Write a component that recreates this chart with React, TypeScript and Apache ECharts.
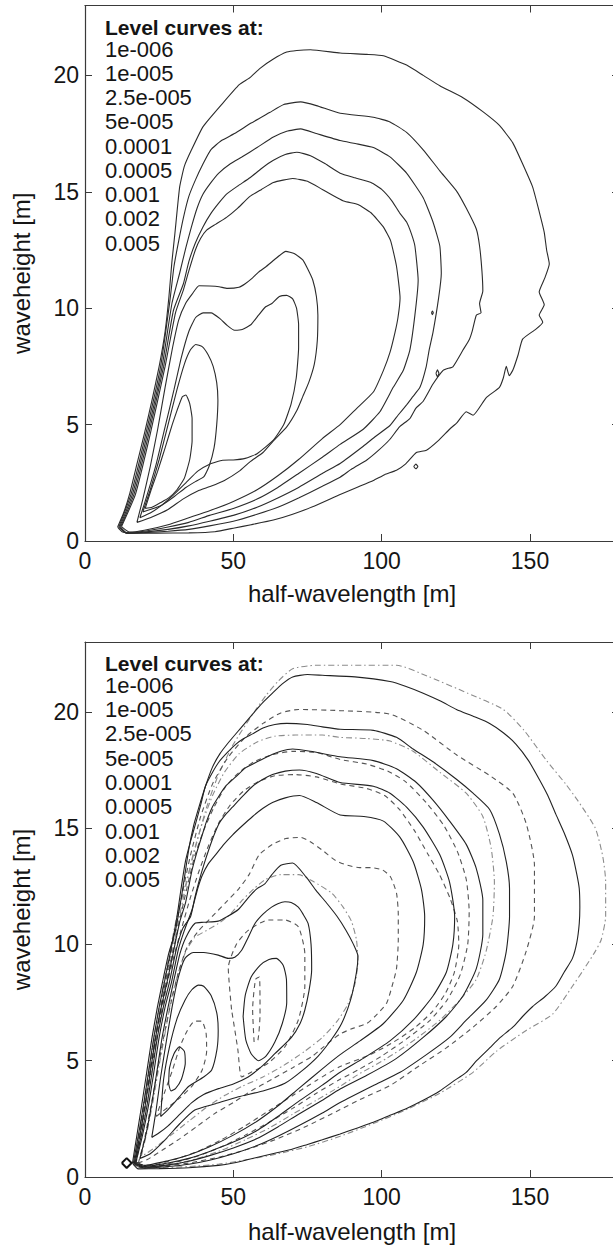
import React, { useEffect, useRef } from 'react';
import * as echarts from 'echarts';

type Pt = [number, number];

const levelLabels = ['1e-006', '1e-005', '2.5e-005', '5e-005', '0.0001', '0.0005', '0.001', '0.002', '0.005'];
const legendTitle = 'Level curves at:';
const xRange = [0, 180];
const yRange = [0, 23];
const xStep = 50;
const yStep = 5;
const xName = 'half-wavelength [m]';
const yName = 'waveheight [m]';

// ---------------- top panel : level curves ----------------
const top1: Pt[] = [[11,0.6],[13,1.2],[15,2],[17.5,3.3],[20,4.6],[22.5,6],[25,7.5],[27,9],[28.3,10.5],[29.3,12],[30.3,13.2],[31.9,15.2],[33.5,16.1],[35.9,16.8],[39.8,17.8],[46.4,18.8],[52,19.6],[55.6,19.9],[59,20.3],[63.5,20.7],[68,21.0],[71.4,21.07],[76,21.1],[86,20.96],[95,20.9],[100.6,20.84],[108.4,20.44],[114,20],[119.6,19.55],[127.4,19.04],[134.1,18.44],[139.7,17.85],[144.2,17.1],[147.5,16.2],[150.9,15.2],[153.1,14.15],[154.8,13.26],[155.6,12.5],[156.5,11.9],[155,11.3],[153.1,10.7],[154.8,10.15],[153.1,9.7],[154.3,9.4],[152,9.1],[147.5,8.67],[146,8.0],[144.2,7.33],[143,7.1],[142,7.5],[141,7.0],[139.7,6.6],[135.2,6.15],[130.8,5.4],[128.5,5.55],[125.5,5.1],[122.9,4.8],[119,4.3],[115.1,3.9],[111.7,3.8],[108,3.3],[105,3.04],[101,2.85],[97.2,2.6],[91.6,2.3],[86,2.0],[76.7,1.47],[70,1.15],[63.5,0.9],[56,0.7],[50.4,0.56],[43.8,0.4],[35,0.35],[24,0.34],[15,0.33],[12.5,0.4],[11,0.6]];
const top2: Pt[] = [[11.4,0.6],[15.5,2],[20.5,4.6],[25.5,7.5],[28.6,10.3],[30,11.8],[31.6,12.9],[33.2,13.9],[35,14.8],[37.2,15.5],[39.8,16.2],[42.4,16.8],[46,17.2],[50.4,17.5],[56,17.95],[62.2,18.4],[67,18.75],[72.7,18.86],[78,18.7],[86,18.37],[97.2,18.2],[102.8,18.0],[108.4,17.55],[114,16.8],[119.6,15.9],[125.2,15.04],[128.5,14.3],[131.9,13.4],[133,12.67],[133.8,11.6],[134.1,10.74],[133,10.2],[133.5,9.8],[131.9,9.7],[130.5,9.0],[129.6,8.67],[127.4,8.2],[124,7.48],[122,7.4],[120.7,7.33],[117.3,6.74],[114,6.0],[111.5,5.7],[109.5,5.26],[106,4.9],[102.8,4.37],[99,3.9],[95,3.48],[90,3.1],[86,2.74],[80,2.35],[72,1.85],[65,1.45],[58,1.15],[50,0.85],[42,0.65],[35,0.5],[28,0.42],[20,0.36],[14,0.33],[11.4,0.6]];
const top3: Pt[] = [[11.7,0.6],[16,2],[21,4.6],[26,7.5],[29.3,10.2],[31.9,11.5],[34,12.6],[35.9,13.5],[37.8,14.3],[39.8,14.9],[42.5,15.4],[45.1,15.8],[49,16.2],[53,16.5],[58,16.9],[63.5,17.35],[68,17.6],[72.7,17.7],[78,17.5],[86,17.2],[91.1,17.07],[97.2,16.9],[102.8,16.5],[108.4,15.8],[114,14.74],[117.3,13.7],[119.6,12.67],[120.1,11.5],[119.2,10.44],[117.3,8.96],[116,8.2],[115,7.48],[112.9,6.6],[110.5,6.2],[108.4,5.85],[105.5,5.4],[102.8,4.96],[98,4.5],[93.8,4.07],[86,3.33],[80,2.9],[72,2.3],[65,1.85],[58,1.45],[50,1.1],[42,0.85],[35,0.65],[28,0.5],[20,0.38],[14,0.34],[11.7,0.6]];
const top4: Pt[] = [[12,0.6],[16.5,2],[21.5,4.6],[26.5,7.5],[29.8,9.9],[33.2,11.06],[35,12],[37.2,12.8],[39.8,13.5],[42.4,14.06],[45,14.5],[47.7,14.9],[51.5,15.25],[55.6,15.6],[59.5,16],[63.5,16.35],[67.5,16.6],[71.4,16.7],[76,16.55],[81,16.2],[86,15.8],[91,15.6],[96.4,15.4],[100,15.1],[103.5,14.6],[106,14.1],[108.4,13.7],[110,13.2],[111.2,12.67],[112.3,11.2],[111.2,9.7],[109.5,8.2],[107.3,7.33],[103.9,6.6],[99.4,5.55],[93.8,4.8],[86,4.15],[80,3.6],[72,2.9],[65,2.3],[58,1.8],[50,1.4],[42,1.1],[35,0.8],[28,0.6],[20,0.42],[14,0.36],[12,0.6]];
const top5: Pt[] = [[12.3,0.62],[17,2],[22,4.6],[27,7.5],[30.5,9.8],[33.2,10.8],[35,11.6],[37.2,12.5],[39,13],[41,13.35],[44,13.6],[47.7,13.9],[51.5,14.3],[55.6,14.8],[59.5,15.1],[63.5,15.4],[70,15.57],[75,15.45],[80,15.1],[87.2,14.6],[92,14.45],[96.4,14.1],[100.5,13.5],[103,12.9],[105,11.8],[106.2,10.44],[105.5,9.6],[104.5,8.96],[102.8,8.1],[100.6,7.33],[97.2,6.4],[91.6,5.7],[86,5.0],[80,4.4],[72,3.5],[65,2.8],[58,2.2],[50,1.7],[42,1.3],[35,1.0],[28,0.7],[20,0.46],[15,0.38],[12.3,0.62]];
const top6: Pt[] = [[17.5,0.8],[22,1.0],[28,1.35],[33,1.8],[38,2.15],[42.4,2.35],[47,2.6],[52,3.0],[55.6,3.4],[60,3.8],[63.5,4.3],[68,4.9],[71.4,5.6],[73.4,6.2],[75.4,6.8],[77.3,7.6],[78.3,8.6],[78.5,9.7],[78,10.5],[76.8,11.2],[75,11.7],[73.4,12.07],[70.5,12.35],[67.7,12.44],[64,12.1],[61,11.78],[58.5,11.55],[56.5,11.3],[54,11.05],[51.9,10.9],[48,10.85],[45.2,10.92],[42,10.95],[38.4,10.96],[36.1,10.6],[33.9,10.2],[31.6,9.5],[29.5,8.3],[27,6.6],[24.5,4.8],[22,3.2],[19.5,1.8],[17.5,0.8]];
const top7: Pt[] = [[18.5,1.0],[22,1.2],[26,1.55],[30,2.0],[34,2.5],[38,3.0],[42,3.3],[46.4,3.47],[50,3.48],[54,3.55],[58,3.75],[63.5,4.33],[67,5],[69.5,5.9],[71.2,7.0],[72,8.3],[72,9.3],[71.3,10.0],[70,10.4],[68,10.55],[65.5,10.5],[63,10.2],[60.9,10.06],[58.5,9.7],[56,9.3],[53,9.08],[50.4,9.05],[48,9.25],[45.5,9.55],[42.5,9.8],[39.8,9.8],[37.3,9.6],[35,9.0],[32.5,7.9],[30,6.5],[27,4.9],[24,3.3],[21,2.0],[18.5,1.0]];
const top8: Pt[] = [[19.5,1.25],[22,1.35],[26,1.55],[30,1.9],[34,2.3],[37.2,2.55],[40,2.75],[41.8,3.2],[43.5,4.0],[44.4,5],[44.8,6.05],[44.4,6.8],[43.2,7.5],[41.5,8.0],[39.5,8.35],[37.3,8.44],[35.5,8.2],[33.5,7.6],[31,6.5],[28,5.0],[25,3.5],[22,2.2],[19.5,1.25]];
const top9: Pt[] = [[20.3,1.4],[22.6,1.45],[25.5,1.65],[28.2,1.85],[31,2.2],[33.5,2.7],[35.3,3.5],[36.1,4.3],[36.1,5.26],[35.3,5.9],[34,6.27],[32.8,6.2],[31,5.6],[29.4,5.0],[27,4.0],[24.5,3.0],[22.3,2.2],[20.3,1.4]];
const topIslandA: Pt[] = [[110.8,3.2],[111.5,3.3],[112.2,3.2],[111.5,3.1],[110.8,3.2]];
const topIslandB: Pt[] = [[118.3,7.2],[118.8,7.35],[119.3,7.2],[118.8,7.05],[118.3,7.2]];
const topIslandC: Pt[] = [[116.8,9.8],[117.1,9.88],[117.4,9.8],[117.1,9.72],[116.8,9.8]];

// ---------------- bottom panel : solid curves ----------------
const bot1: Pt[] = [[16,0.6],[17.5,1.8],[19,3],[20.8,4.5],[22.6,6],[24.4,7.3],[26,8.3],[28.2,9.6],[30.5,10.6],[32.7,12.2],[35,14.1],[36.6,15.1],[38.4,15.9],[40.6,16.8],[42.9,17.6],[45.5,18.2],[48.5,18.7],[52.5,19.3],[56.5,19.9],[60,20.4],[63.2,20.8],[66.5,21.2],[70,21.5],[75,21.6],[80,21.57],[91,21.5],[102.8,21.3],[108,21.1],[114,20.8],[120,20.45],[125.2,20.1],[131,19.8],[136.4,19.5],[141,19.1],[145.3,18.6],[149.5,17.9],[153.1,17.1],[156,16.4],[158.7,15.6],[161.5,14.8],[164.3,13.85],[165.8,13.0],[166.6,12.4],[166.8,11.6],[166.6,10.9],[165.8,10.1],[164.3,9.4],[161.5,8.8],[158.7,8.2],[155,7.75],[150.9,7.33],[147.5,6.9],[144.2,6.44],[140,6.0],[136.4,5.55],[132,5.0],[128.5,4.5],[124,4.1],[119.6,3.7],[114,3.3],[108.4,2.95],[102.8,2.65],[97.2,2.35],[91.6,2.1],[86,1.85],[80,1.6],[75,1.4],[70,1.2],[65,1.05],[60,0.9],[55,0.75],[50,0.6],[45,0.5],[35,0.4],[25,0.36],[18,0.35],[16,0.6]];
const bot2: Pt[] = [[16.3,0.6],[18,1.8],[19.6,3],[21.4,4.5],[23.2,6],[25,7.3],[26.8,8.4],[29,9.8],[31,11.2],[32.5,12.5],[33.9,13.6],[35.5,14.4],[37.3,15.2],[39,16],[40.6,16.8],[43,17.4],[45.2,17.85],[48,18.25],[50.8,18.6],[53.5,18.85],[56.5,19.05],[60,19.3],[64,19.45],[68,19.5],[75,19.45],[80,19.35],[86,19.25],[97.2,19.2],[105,18.9],[110.6,18.4],[117.3,17.85],[125.2,17.1],[130.8,16.5],[136.4,15.8],[139.7,14.74],[142,13.56],[143.1,12.4],[143.1,11.2],[142,9.7],[139.7,8.5],[135.2,7.6],[128.5,6.74],[122.9,6.0],[115.1,5.26],[106.2,4.5],[97.2,3.93],[86,3.2],[80,2.75],[72,2.2],[65,1.75],[58,1.35],[50,1.0],[42,0.72],[35,0.55],[28,0.45],[20,0.38],[16.3,0.6]];
const bot3: Pt[] = [[16.6,0.6],[18.5,1.8],[20.2,3],[22,4.5],[23.8,6],[25.7,7.3],[27.7,8.4],[30,9.8],[32,11],[33.9,11.8],[35,12.5],[36.1,13.2],[37.8,14],[39.5,14.7],[41,15.3],[42.9,15.9],[45,16.35],[47.4,16.8],[50.8,17.2],[54.2,17.6],[58,17.85],[62,18.1],[66,18.3],[70,18.4],[76,18.3],[86,18.07],[97.2,17.9],[105,17.55],[111.7,16.96],[117.3,16.2],[122.9,15.3],[128.5,14.3],[131.9,13.26],[134.1,11.9],[134.1,10.44],[131.9,8.96],[127.4,7.78],[121.8,6.9],[114,6.0],[105,5.1],[95,4.37],[86,3.78],[80,3.3],[72,2.7],[65,2.15],[58,1.65],[50,1.25],[42,0.92],[35,0.68],[28,0.52],[20,0.42],[16.6,0.6]];
const bot4: Pt[] = [[16.9,0.62],[19,1.8],[20.8,3],[22.6,4.5],[24.4,6],[26.4,7.3],[28.5,8.4],[30.8,9.8],[33,10.7],[35.6,11.2],[37,12],[38.4,12.7],[40,13.4],[41.8,14.1],[43.5,14.7],[45.2,15.2],[47.5,15.6],[49.7,15.9],[53,16.35],[56.5,16.8],[60,17.1],[63.2,17.3],[67.5,17.45],[72.3,17.5],[78,17.35],[86,16.96],[97.2,16.8],[102.8,16.5],[108.4,15.9],[114,15.04],[119.6,13.85],[122.9,12.67],[124.6,11.2],[124,10],[121.8,8.8],[117.3,7.78],[110.6,6.74],[102.8,5.85],[93.8,5.1],[86,4.5],[80,3.95],[72,3.25],[65,2.6],[58,2.0],[50,1.5],[42,1.1],[35,0.8],[28,0.6],[20,0.45],[16.9,0.62]];
const bot5: Pt[] = [[17.2,0.65],[19.4,1.8],[21.3,3],[23.2,4.5],[25,6],[27,7.3],[29.2,8.4],[31.5,9.8],[33.5,10.6],[36.1,11.5],[38,12.4],[39.5,12.96],[41.5,13.45],[44,13.85],[46.8,14.3],[49.7,14.7],[53,15.1],[56.5,15.5],[60,15.85],[63.2,16.1],[67.5,16.3],[72.3,16.4],[78,16.1],[86,15.56],[94,15.5],[100.6,15.3],[106.2,14.6],[110.6,13.56],[113.4,12.37],[114.5,11.2],[114,10],[111.7,8.8],[107.3,7.6],[100.6,6.6],[92.7,5.85],[86,5.26],[80,4.65],[72,3.8],[65,3.05],[58,2.4],[50,1.8],[42,1.3],[35,0.95],[28,0.7],[20,0.5],[17.2,0.65]];
const bot6: Pt[] = [[18.5,0.8],[20.5,1.8],[22.3,3],[24.2,4.5],[26,6],[28,7.3],[30.2,8.6],[32,9.6],[34,10.3],[37,10.9],[40,10.95],[44.9,11.0],[48,11.2],[51.7,11.5],[55,12],[58,12.4],[60.6,12.6],[63,13.0],[66,13.4],[70,13.5],[74.5,12.9],[78,12.3],[81.3,11.8],[85,11.2],[88,10.6],[90.5,10.0],[92,9.5],[91.5,8.8],[89.5,7.6],[86.5,6.6],[83,5.9],[78.6,5.2],[73,4.55],[67.4,4.03],[60,3.7],[51.7,3.45],[44,3.15],[37,2.88],[32,2.3],[27,1.6],[22,1.0],[18.5,0.8]];
const bot7: Pt[] = [[22.5,1.7],[25,1.9],[28,2.2],[32,2.7],[36,3.2],[40,3.55],[45,3.8],[50,4.0],[55,4.3],[60,4.8],[64,5.3],[69.6,6.0],[72.5,6.6],[74.1,7.18],[75.5,8.0],[76.4,8.9],[76.2,10.0],[75.2,10.9],[73.5,11.3],[71.9,11.6],[69.5,11.8],[67.4,11.83],[65,11.75],[62.9,11.6],[60,11.3],[57.3,10.9],[55,10.3],[52.8,9.75],[50.5,9.45],[48.3,9.4],[44.9,9.54],[40,9.65],[36.5,9.65],[33.7,9.4],[31.5,8.6],[29.5,7.4],[27.5,5.9],[25.5,4.3],[24,2.9],[22.5,1.7]];
const bot8: Pt[] = [[25.5,2.6],[28,2.9],[31.5,3.4],[35,3.9],[40,4.3],[42.7,4.6],[44.5,5.5],[44.9,6.3],[44.4,7.07],[42.5,7.8],[40,8.2],[38.2,8.25],[36,8.05],[33.7,7.6],[31,6.8],[28.5,5.6],[26.5,4.2],[25.5,2.6]];
const bot8b: Pt[] = [[53.3,6.9],[54,7.8],[56,8.6],[59,9.1],[62,9.35],[64.5,9.4],[66.8,9.1],[67.9,8.5],[68,7.5],[66.5,6.6],[64,5.8],[61,5.2],[58.5,5.0],[56,5.3],[54.2,5.9],[53.3,6.9]];
const bot9: Pt[] = [[28.2,4.0],[28.5,4.7],[30,5.3],[31.8,5.6],[33.5,5.4],[33.8,4.9],[32.5,4.2],[30.5,3.8],[29,3.7],[28.2,4.0]];
const botDiamond: Pt[] = [[12.4,0.6],[14.05,0.81],[15.7,0.6],[14.05,0.39],[12.4,0.6]];

// ---------------- bottom panel : dashed curves ----------------
const dash1: Pt[] = [[16.8,0.5],[19.5,2.8],[23,5.5],[26.5,8],[29.5,10],[32.5,12],[35.5,13.8],[39,15.5],[43,16.9],[48,18.0],[54,18.9],[60,19.5],[66,19.95],[72,20.1],[86,20.05],[102.8,19.9],[114,19.2],[125.2,18.15],[136.4,17.26],[144.2,16.5],[148.7,15.2],[151.5,13.4],[151.5,11.2],[148.7,9.7],[144.2,8.2],[138.6,7.33],[130.8,6.44],[121.8,5.55],[112.9,4.8],[102.8,3.93],[92.7,3.33],[86,2.9],[75,2.2],[65,1.65],[55,1.2],[45,0.85],[35,0.6],[25,0.45],[19,0.4],[16.8,0.5]];
const dash2: Pt[] = [[16.9,0.5],[19.3,2.4],[21.8,4.4],[24.3,6.3],[26.8,8],[29.5,9.6],[32,11.1],[34.5,12.5],[37,13.8],[40,14.9],[43.5,15.9],[47.5,16.8],[52,17.4],[57,17.85],[63,18.15],[70,18.3],[78,18.25],[86,17.95],[95,17.75],[102,17.45],[108,17.0],[115,16.1],[121,15.1],[125.5,14.0],[128.5,12.8],[129.5,11.4],[129,10.0],[126.5,8.7],[122,7.6],[116,6.7],[108,5.9],[100,5.2],[92,4.6],[86,4.2],[78,3.6],[70,2.95],[62,2.35],[54,1.8],[46,1.3],[38,0.9],[30,0.62],[22,0.45],[16.9,0.5]];
const dash3: Pt[] = [[17.2,0.55],[19.7,2.5],[22.2,4.5],[24.8,6.4],[27.3,8.1],[30,9.5],[32.8,10.8],[35.5,12.0],[38.3,13.1],[41.5,14.2],[45,15.2],[49,16.0],[53.5,16.6],[58.5,17.0],[64,17.25],[71,17.3],[78,17.2],[86,16.9],[95,16.7],[101,16.4],[106,15.8],[111,14.9],[115.5,13.9],[119.5,13.0],[123,12.0],[125.5,11.0],[126,10.0],[124.5,8.8],[121.5,7.9],[117,7.1],[111,6.4],[104,5.8],[96,5.25],[86,4.75],[78,4.15],[70,3.5],[62,2.85],[54,2.2],[46,1.6],[38,1.1],[30,0.75],[22,0.5],[17.2,0.55]];
const dash4: Pt[] = [[18,0.6],[20,1.6],[22,2.9],[24.2,4.4],[26.5,6.0],[29,7.5],[31.5,8.8],[34.5,9.9],[38.4,10.6],[42.9,11.2],[47.4,11.8],[51.9,12.4],[55.3,13.0],[58.7,13.85],[63.2,14.3],[67.7,14.55],[72.7,14.6],[76.7,14.35],[80.5,14.0],[84.5,13.6],[88.5,13.4],[92.5,13.3],[96.5,13.3],[100.3,13.2],[103,12.9],[105,12.2],[105.6,11.3],[105.6,10.2],[105,8.96],[103.5,8.2],[101.7,7.48],[98.5,7.0],[95,6.6],[90.5,6.4],[86,6.15],[80,5.55],[76.7,5.2],[70,4.7],[63,4.2],[56,3.7],[50,3.2],[44,2.75],[38,2.2],[32,1.65],[26,1.15],[21,0.75],[18,0.6]];
const dash5: Pt[] = [[49.4,7.2],[48.3,9.0],[51,10],[55,10.6],[61.8,11.05],[67.4,11.05],[71.9,10.76],[74.1,9.6],[74.1,8.2],[71.9,6.75],[67.4,5.6],[61.8,4.9],[56,4.5],[52.8,4.3],[51.5,5.5],[49.4,7.2]];
const dash6: Pt[] = [[24,2.6],[28,3.0],[32,3.4],[36,3.9],[39.5,4.6],[41,5.4],[40.8,6.2],[39.3,6.7],[37,6.7],[34.5,6.3],[32,5.6],[29.5,4.6],[27,3.7],[24,2.6]];
const dash7: Pt[] = [[57,5.8],[56.5,7.2],[57.5,8.5],[58.8,8.6],[59,7],[58.3,5.9],[57,5.8]];

// ---------------- bottom panel : dash-dot curves ----------------
const dot1: Pt[] = [[16.5,0.5],[19,2.5],[22,5],[25,7.3],[28,9.3],[31,11.2],[34,12.6],[37.5,14.3],[41,15.9],[45,17.3],[50,18.6],[56,19.8],[61,20.7],[65,21.3],[70,21.85],[78,22.0],[90,22.0],[105,22.0],[116,21.5],[129,20.8],[141,20.1],[148,19.2],[155.6,17.9],[162,16.9],[166,16.2],[172,15.0],[174.5,13.8],[175.5,12.7],[175.5,11.2],[174,10.2],[172,9.7],[168,8.9],[164.3,8.2],[157.6,7.0],[148.7,6.3],[138.6,5.4],[130.8,4.5],[119.6,3.6],[108.4,2.9],[97.2,2.3],[86,1.75],[75,1.3],[65,1.0],[55,0.75],[45,0.55],[35,0.45],[25,0.4],[19,0.4],[16.5,0.5]];
const dot2: Pt[] = [[16.6,0.5],[19,2.2],[21.5,4.2],[24,6.2],[26.5,7.9],[29,9.4],[31.5,11.0],[34,12.5],[36.5,13.9],[39.5,15.2],[43,16.4],[47,17.4],[52,18.2],[58,18.7],[64,18.95],[71,19.0],[80,19.0],[86,18.9],[95,18.85],[102.8,18.74],[110.6,18.3],[119.6,17.4],[128.5,16.5],[134.1,15.5],[136.9,14.15],[138,12.67],[137.5,11.2],[135.2,9.7],[131.9,8.5],[126.3,7.6],[119.6,6.74],[110.6,5.85],[101.7,5.1],[91.6,4.37],[86,3.9],[78,3.3],[70,2.7],[62,2.1],[54,1.6],[46,1.15],[38,0.8],[30,0.55],[22,0.42],[16.6,0.5]];
const dot3: Pt[] = [[19,0.9],[21,2],[23,3.3],[25,4.8],[27,6.2],[29,7.6],[31.5,8.8],[34,9.7],[37,10.3],[41,10.6],[45,10.9],[49,11.3],[53,11.9],[57,12.4],[61,12.8],[66,13.0],[72,13.0],[77,12.7],[83.2,12.2],[87,11.6],[89.8,11.0],[91.5,10.2],[92,9.3],[91,8.3],[88.5,7.4],[85,6.7],[80,6.0],[74,5.4],[67,4.8],[60,4.3],[53,3.9],[47,3.5],[41,3.0],[35,2.4],[29,1.8],[24,1.3],[20.5,1.0],[19,0.9]];

const topCurves = [top1, top2, top3, top4, top5, top6, top7, top8, top9, topIslandA, topIslandB, topIslandC];
const solidCurves = [bot1, bot2, bot3, bot4, bot5, bot6, bot7, bot8, bot8b, bot9];
const dashedCurves = [dash1, dash2, dash3, dash4, dash5, dash6, dash7];
const dashDotCurves = [dot1, dot2, dot3];

const FONT = '"Liberation Sans", Arial, Helvetica, sans-serif';
const INK = '#151515';
const AXIS = '#3a3a3a';

const grids = [
  { left: 85, top: 5.5, width: 534, height: 535.5, nameGap: 40 },
  { left: 85, top: 642, width: 534, height: 535, nameGap: 42 },
];

function lineSeries(data: Pt[], g: number, lineStyle: any, smooth: number, z = 2) {
  return {
    type: 'line',
    xAxisIndex: g * 2,
    yAxisIndex: g * 2,
    data,
    symbol: 'none',
    showSymbol: false,
    smooth,
    silent: true,
    clip: true,
    z,
    lineStyle,
  };
}

function buildOption() {
  const xAxis: any[] = [];
  const yAxis: any[] = [];
  grids.forEach((g, i) => {
    const common = {
      type: 'value',
      gridIndex: i,
      splitLine: { show: false },
      axisLine: { show: true, onZero: false, lineStyle: { color: AXIS, width: 1.2 } },
      axisTick: { show: true, inside: true, length: 7, lineStyle: { color: AXIS, width: 1 } },
    };
    xAxis.push({
      ...common,
      position: 'bottom',
      min: xRange[0], max: xRange[1], interval: xStep,
      name: xName, nameLocation: 'middle', nameGap: g.nameGap,
      nameTextStyle: { fontSize: 24, fontFamily: FONT, color: INK },
      axisLabel: { show: true, fontSize: 23, fontFamily: FONT, color: INK, margin: 8, showMaxLabel: false },
    });
    xAxis.push({
      ...common,
      position: 'top',
      min: xRange[0], max: xRange[1], interval: xStep,
      axisLabel: { show: false },
    });
    yAxis.push({
      ...common,
      position: 'left',
      min: yRange[0], max: yRange[1], interval: yStep,
      name: yName, nameLocation: 'middle', nameGap: 52,
      nameTextStyle: { fontSize: 24, fontFamily: FONT, color: INK },
      axisLabel: { show: true, fontSize: 23, fontFamily: FONT, color: INK, margin: 6, showMaxLabel: false },
    });
    yAxis.push({
      ...common,
      position: 'right',
      min: yRange[0], max: yRange[1], interval: yStep,
      axisLabel: { show: false },
    });
  });

  const series: any[] = [];
  topCurves.forEach((c) => series.push(lineSeries(c, 0, { color: '#2b2b2b', width: 1.1 }, 0.15)));
  dashDotCurves.forEach((c) => series.push(lineSeries(c, 1, { color: '#8c8c8c', width: 1.1, type: [6, 3, 1.5, 3] }, 0.2, 1)));
  dashedCurves.forEach((c) => series.push(lineSeries(c, 1, { color: '#555555', width: 1.1, type: [5, 4] }, 0.2, 2)));
  solidCurves.forEach((c) => series.push(lineSeries(c, 1, { color: '#222222', width: 1.1 }, 0.2, 3)));
  series.push(lineSeries(botDiamond, 1, { color: '#111111', width: 2 }, 0, 4));

  const graphic: any[] = [];
  const legendBlocks = [
    { x: 105, headY: 27, firstY: 49, step: 24.25 },
    { x: 105, headY: 663.5, firstY: 685, step: 24.35 },
  ];
  legendBlocks.forEach((b) => {
    graphic.push({
      type: 'text', x: b.x, y: b.headY, silent: true,
      style: { text: legendTitle, font: `bold 21px ${FONT}`, fill: INK, textVerticalAlign: 'middle', verticalAlign: 'middle' },
    });
    levelLabels.forEach((t, i) => {
      graphic.push({
        type: 'text', x: b.x, y: b.firstY + i * b.step, silent: true,
        style: { text: t, font: `22px ${FONT}`, fill: INK, textVerticalAlign: 'middle', verticalAlign: 'middle' },
      });
    });
  });

  return {
    animation: false,
    backgroundColor: '#ffffff',
    grid: grids.map((g) => ({ left: g.left, top: g.top, width: g.width, height: g.height, containLabel: false })),
    xAxis,
    yAxis,
    series,
    graphic,
  };
}

export default function App() {
  const ref = useRef<HTMLDivElement | null>(null);
  useEffect(() => {
    if (!ref.current) return;
    const chart = echarts.init(ref.current, undefined, { renderer: 'svg' });
    chart.setOption(buildOption() as any);
    return () => chart.dispose();
  }, []);
  return (
    <div style={{ position: 'absolute', left: 0, top: 0, width: 613, height: 1250, overflow: 'hidden', background: '#fff' }}>
      <div ref={ref} style={{ width: 640, height: 1250 }} />
    </div>
  );
}
